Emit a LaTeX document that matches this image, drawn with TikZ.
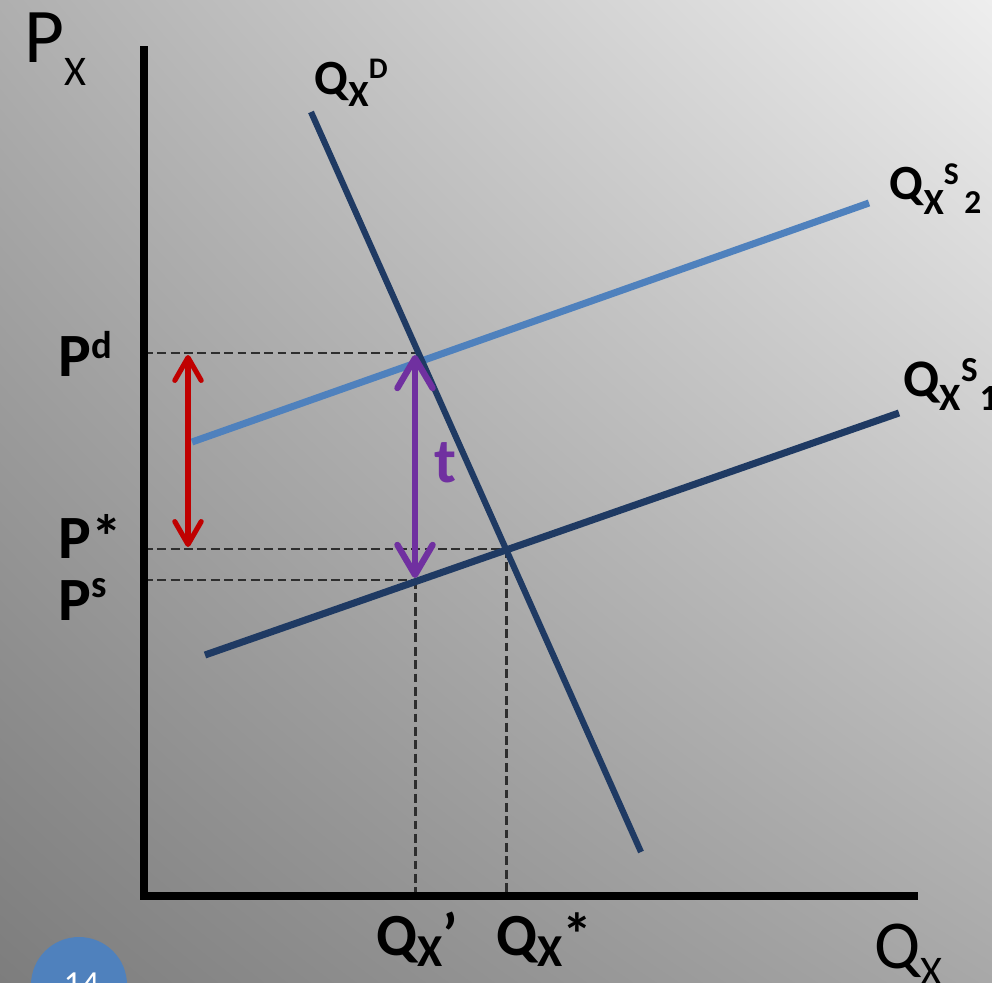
\documentclass[tikz,border=0pt]{standalone}
\usepackage{fontspec}
\setmainfont{Carlito}
\usetikzlibrary{arrows.meta,shadings}
\definecolor{navy}{HTML}{1F3A63}
\definecolor{lblue}{HTML}{4F81BD}
\definecolor{darkred}{HTML}{C00000}
\definecolor{purp}{HTML}{7030A0}
\definecolor{dashgray}{HTML}{2E2E2E}
\definecolor{bgTL}{RGB}{175,175,175}
\definecolor{bgTR}{RGB}{238,238,238}
\definecolor{bgBL}{RGB}{125,125,125}
\definecolor{bgBR}{RGB}{168,168,168}
\newcommand\fs[2]{{\fontsize{#1}{#1}\selectfont #2}}
\newcommand\rb[2]{\raisebox{#1}{#2}}
\begin{document}
\begin{tikzpicture}[x=0.01cm,y=-0.01cm,
  axisline/.style={line width=2pt, black},
  demandline/.style={line width=1.75pt, navy},
  supplyone/.style={line width=2pt, navy},
  supplytwo/.style={line width=2pt, lblue},
  guide/.style={line width=0.85pt, dashgray, dash pattern=on 2.5pt off 1.3pt},
  lbl/.style={inner sep=0pt, anchor=base west, font=\bfseries},
  axlbl/.style={inner sep=0pt, anchor=base west},
  redarrow/.style={line width=1.45pt, darkred, {Straight Barb[length=6.5pt,width=7.5pt,round]}-{Straight Barb[length=6.5pt,width=7.5pt,round]}},
  purparrow/.style={line width=1.8pt, purp, {Straight Barb[length=8.5pt,width=10pt,round]}-{Straight Barb[length=8.5pt,width=10pt,round]}}
]
\useasboundingbox (0,0) rectangle (992,983);
\clip (0,0) rectangle (992,983);
\shade[upper left=bgTL, upper right=bgTR, lower left=bgBL, lower right=bgBR] (0,0) rectangle (992,983);

% page number badge
\fill[lblue] (79,985) circle (48);
\node[axlbl, text=white] (pagenum) at (63,995) {\fs{10}{14}};

% coordinates
\coordinate (ytop) at (144,50);
\coordinate (origin) at (144,896);
\coordinate (xend) at (914,896);
\coordinate (Dtop) at (311,112);
\coordinate (Dbot) at (641,852);
\coordinate (S2a) at (192,442);
\coordinate (S2b) at (869,203);
\coordinate (S1a) at (205,655);
\coordinate (S1b) at (899,413);
\coordinate (Ed) at (418,353);
\coordinate (Es) at (506,549);
\coordinate (Fs) at (415,580);
\coordinate (PdAx) at (144,353);
\coordinate (PstarAx) at (144,549);
\coordinate (PsAx) at (144,580);
\coordinate (QpAx) at (415,896);
\coordinate (QstarAx) at (506,896);
\coordinate (redTop) at (188,355);
\coordinate (redBot) at (188,547);
\coordinate (purTop) at (415,355);
\coordinate (purBot) at (415,578);

% guides
\draw[guide] (PdAx) -- (Ed);
\draw[guide] (PstarAx) -- (Es);
\draw[guide] (PsAx) -- (Fs);
\draw[guide] (Fs) -- (QpAx);
\draw[guide] (Es) -- (QstarAx);

% curves
\draw[supplytwo] (S2a) -- (S2b);
\draw[supplyone] (S1a) -- (S1b);
\draw[demandline] (Dtop) -- (Dbot);

% axes
\draw[axisline, line cap=rect] (ytop) -- (origin) -- (xend);

% arrows
\draw[redarrow] (redTop) -- (redBot);
\draw[purparrow] (purTop) -- (purBot);
\node[lbl, text=purp] (tlbl) at (434,482) {\fs{18}{t}};

% labels
\node[axlbl] (PX) at (24,63) {\fs{22}{P}\rb{-6.3pt}{\fs{12}{X}}};
\node[axlbl] (QXax) at (874,968) {\fs{19.5}{Q}\rb{-5pt}{\fs{12}{X}}};
\node[lbl] (QD) at (314,95) {\fs{14}{Q}\rb{-3.4pt}{\fs{10.5}{X}}\rb{4.8pt}{\fs{8.5}{D}}};
\node[lbl] (QS2) at (889,200) {\fs{14}{Q}\rb{-4pt}{\fs{10.5}{X}}\rb{4.3pt}{\fs{9}{S}}\rb{-3.7pt}{\fs{9.5}{\,2}}};
\node[lbl] (QS1) at (903,397) {\fs{15}{Q}\rb{-3.7pt}{\fs{11}{X}}\rb{4.3pt}{\fs{10}{S}}\rb{-3.7pt}{\fs{10.5}{\kern0.5pt 1}}};
\node[lbl] (Pd) at (58,377) {\fs{17.5}{P}\rb{5.4pt}{\fs{11}{d}}};
\node[lbl] (Pstar) at (58,558) {\fs{17.5}{P*}};
\node[lbl] (Ps) at (58,620) {\fs{17.5}{P}\rb{6.5pt}{\fs{11}{s}}};
\node[lbl] (Qp) at (376,955) {\fs{17}{Q}\rb{-3.4pt}{\fs{13}{X}}\fs{17}{’}};
\node[lbl] (Qstar) at (496,955) {\fs{17}{Q}\rb{-3.4pt}{\fs{13}{X}}\fs{17}{*}};
\end{tikzpicture}
\end{document}
